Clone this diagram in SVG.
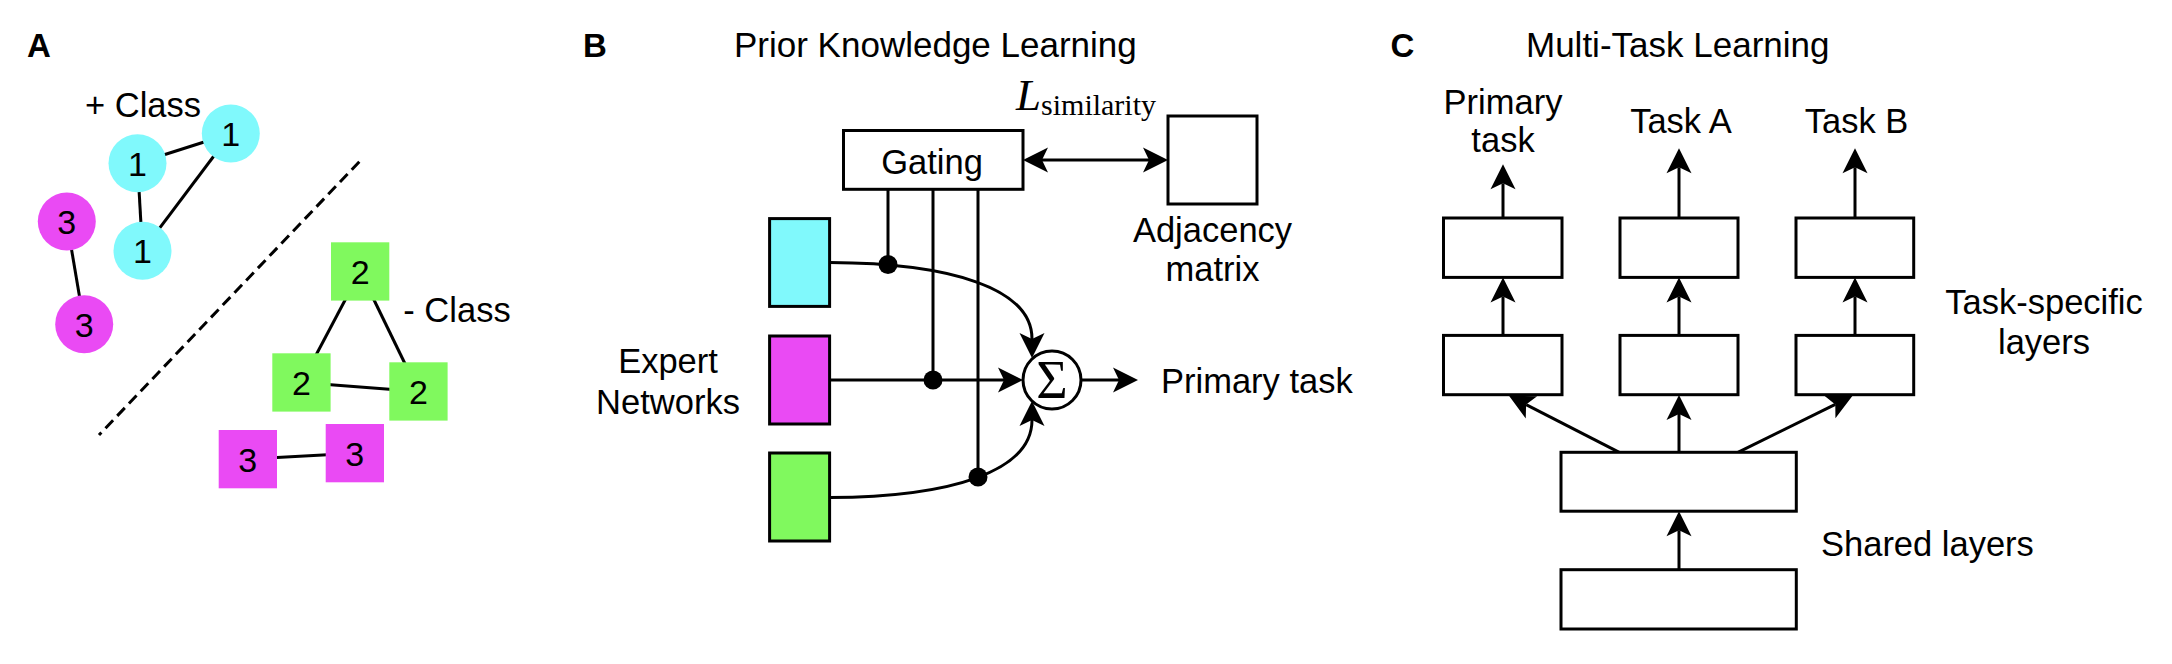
<svg xmlns="http://www.w3.org/2000/svg" width="2172" height="664" viewBox="0 0 2172 664">
<defs>
<style>
.t{font-family:"Liberation Sans",Arial,Helvetica,sans-serif;font-size:34.5px;fill:#000}
.title{font-family:"Liberation Sans",Arial,Helvetica,sans-serif;font-size:35px;fill:#000}
.lab{font-family:"Liberation Sans",Arial,Helvetica,sans-serif;font-size:33px;font-weight:bold;fill:#000}
.num{font-family:"Liberation Sans",Arial,Helvetica,sans-serif;font-size:34px;fill:#000;text-anchor:middle}
.mid{text-anchor:middle}
.edge{stroke:#000;stroke-width:3;fill:none}
.box{fill:#fff;stroke:#000;stroke-width:3}
.cyan{fill:#80f9fc}
.mag{fill:#ea4af4}
.grn{fill:#80f95e}
.arr{stroke:#000;stroke-width:3;fill:none;marker-end:url(#ah)}
.dot{fill:#000}
</style>
<marker id="ah" markerUnits="userSpaceOnUse" markerWidth="30" markerHeight="30" refX="6" refY="12.5" orient="auto-start-reverse" overflow="visible">
<path d="M0,0 L25,12.5 L0,25 L6,12.5 Z" fill="#000"/>
</marker>
</defs>
<rect width="2172" height="664" fill="#fff"/>

<!-- Panel A -->
<text class="lab" x="27" y="56.5">A</text>
<g id="a-edges">
<line class="edge" x1="137.5" y1="163.2" x2="230.8" y2="133.5"/>
<line class="edge" x1="137.5" y1="163.2" x2="142.5" y2="250.8"/>
<line class="edge" x1="230.8" y1="133.5" x2="142.5" y2="250.8"/>
<line class="edge" x1="66.8" y1="221.5" x2="84.2" y2="324.2"/>
<line class="edge" x1="360.2" y1="271.5" x2="301.5" y2="382.5"/>
<line class="edge" x1="360.2" y1="271.5" x2="418.5" y2="391.5"/>
<line class="edge" x1="301.5" y1="382.5" x2="418.5" y2="391.5"/>
<line class="edge" x1="247.8" y1="459.2" x2="354.8" y2="453.2"/>
<line class="edge" x1="359.3" y1="161.7" x2="99" y2="435" stroke-dasharray="11 6"/>
</g>
<g id="a-c1a"><circle class="cyan" cx="230.8" cy="133.5" r="29"/><text class="num" x="230.8" y="146">1</text></g>
<g id="a-c1b"><circle class="cyan" cx="137.5" cy="163.2" r="29"/><text class="num" x="137.5" y="175.7">1</text></g>
<g id="a-c1c"><circle class="cyan" cx="142.5" cy="250.8" r="29"/><text class="num" x="142.5" y="263.3">1</text></g>
<g id="a-m3a"><circle class="mag" cx="66.8" cy="221.5" r="29"/><text class="num" x="66.8" y="234">3</text></g>
<g id="a-m3b"><circle class="mag" cx="84.2" cy="324.2" r="29"/><text class="num" x="84.2" y="336.7">3</text></g>
<g id="a-g2a"><rect class="grn" x="331" y="242.3" width="58.3" height="58.3"/><text class="num" x="360.2" y="284">2</text></g>
<g id="a-g2b"><rect class="grn" x="272.3" y="353.3" width="58.3" height="58.3"/><text class="num" x="301.5" y="395">2</text></g>
<g id="a-g2c"><rect class="grn" x="389.3" y="362.3" width="58.3" height="58.3"/><text class="num" x="418.5" y="404">2</text></g>
<g id="a-m3c"><rect class="mag" x="218.7" y="430" width="58.3" height="58.3"/><text class="num" x="247.8" y="471.7">3</text></g>
<g id="a-m3d"><rect class="mag" x="325.7" y="424" width="58.3" height="58.3"/><text class="num" x="354.8" y="465.7">3</text></g>
<text class="t" x="85" y="117.3">+ Class</text>
<text class="t" x="403.3" y="322.3">- Class</text>

<!-- Panel B -->
<text class="lab" x="583" y="57">B</text>
<text class="title" x="734" y="57">Prior Knowledge Learning</text>
<g id="b-connectors">
<line class="edge" x1="888" y1="189" x2="888" y2="264.5"/>
<line class="edge" x1="933" y1="189" x2="933" y2="380"/>
<line class="edge" x1="978" y1="189" x2="978" y2="477"/>
<path class="arr" d="M829.6,262.5 C950,263 1032,288 1032,339"/>
<line class="arr" x1="829.6" y1="380" x2="1004" y2="380"/>
<path class="arr" d="M829.6,497.5 C950,497 1032,472 1032,420"/>
<line class="arr" x1="1081" y1="380" x2="1119" y2="380"/>
<line class="arr" x1="1042" y1="160" x2="1149" y2="160" marker-start="url(#ah)"/>
<circle class="dot" cx="888" cy="264.5" r="9.5"/>
<circle class="dot" cx="933" cy="380" r="9.5"/>
<circle class="dot" cx="978" cy="477" r="9.5"/>
</g>
<g id="b-gating"><rect class="box" x="843.5" y="130.5" width="179.5" height="58.8"/><text class="t mid" x="932" y="174">Gating</text></g>
<g id="b-adjacency"><rect class="box" x="1168" y="116" width="89" height="88"/><text class="t mid" x="1212.5" y="241.7">Adjacency</text><text class="t mid" x="1212.5" y="280.7">matrix</text></g>
<g id="b-loss"><text x="1016" y="110" font-family="'Liberation Serif','Times New Roman',serif"><tspan font-style="italic" font-size="45">L</tspan><tspan font-size="30" dy="4.5">similarity</tspan></text></g>
<g id="b-expert1"><rect class="box cyan" x="769.6" y="218.6" width="60" height="87.8"/></g>
<g id="b-expert2"><rect class="box mag" x="769.6" y="336" width="60" height="88"/></g>
<g id="b-expert3"><rect class="box grn" x="769.6" y="453" width="60" height="88"/></g>
<g id="b-expert-label"><text class="t mid" x="668" y="373">Expert</text><text class="t mid" x="668" y="413.6">Networks</text></g>
<g id="b-sum"><circle cx="1052" cy="380" r="29" fill="#fff" stroke="#000" stroke-width="3"/><text x="1052" y="398" font-family="'Liberation Serif','Times New Roman',serif" font-size="54" text-anchor="middle">Σ</text></g>
<g id="b-primary"><text class="t" x="1161" y="393.3">Primary task</text></g>

<!-- Panel C -->
<text class="lab" x="1390.5" y="57">C</text>
<text class="title" x="1526" y="57">Multi-Task Learning</text>
<g id="c-connectors">
<line class="arr" x1="1503" y1="218" x2="1503" y2="183.3"/>
<line class="arr" x1="1679" y1="218" x2="1679" y2="167.2"/>
<line class="arr" x1="1855" y1="218" x2="1855" y2="167.2"/>
<line class="arr" x1="1503" y1="335.4" x2="1503" y2="296.4"/>
<line class="arr" x1="1679" y1="335.4" x2="1679" y2="296.4"/>
<line class="arr" x1="1855" y1="335.4" x2="1855" y2="296.4"/>
<line class="arr" x1="1619.3" y1="452.3" x2="1526.1" y2="404.6"/>
<line class="arr" x1="1679" y1="452.3" x2="1679" y2="414"/>
<line class="arr" x1="1737.9" y1="452.3" x2="1835.3" y2="404.4"/>
<line class="arr" x1="1679" y1="569.7" x2="1679" y2="530.2"/>
</g>
<g id="c-top1"><rect class="box" x="1443.5" y="218" width="118.5" height="59.4"/></g>
<g id="c-top2"><rect class="box" x="1620" y="218" width="118" height="59.4"/></g>
<g id="c-top3"><rect class="box" x="1796" y="218" width="117.7" height="59.4"/></g>
<g id="c-mid1"><rect class="box" x="1443.5" y="335.4" width="118.5" height="59.3"/></g>
<g id="c-mid2"><rect class="box" x="1620" y="335.4" width="118" height="59.3"/></g>
<g id="c-mid3"><rect class="box" x="1796" y="335.4" width="117.7" height="59.3"/></g>
<g id="c-shared"><rect class="box" x="1561" y="452.3" width="235.3" height="58.9"/></g>
<g id="c-input"><rect class="box" x="1561" y="569.7" width="235.3" height="59.3"/></g>
<g id="c-labels">
<text class="t mid" x="1503" y="113.5">Primary</text>
<text class="t mid" x="1503" y="151.6">task</text>
<text class="t mid" x="1681" y="132.6">Task A</text>
<text class="t mid" x="1856.5" y="132.6">Task B</text>
<text class="t mid" x="2044" y="314">Task-specific</text>
<text class="t mid" x="2044" y="354">layers</text>
<text class="t" x="1821" y="556">Shared layers</text>
</g>
</svg>
